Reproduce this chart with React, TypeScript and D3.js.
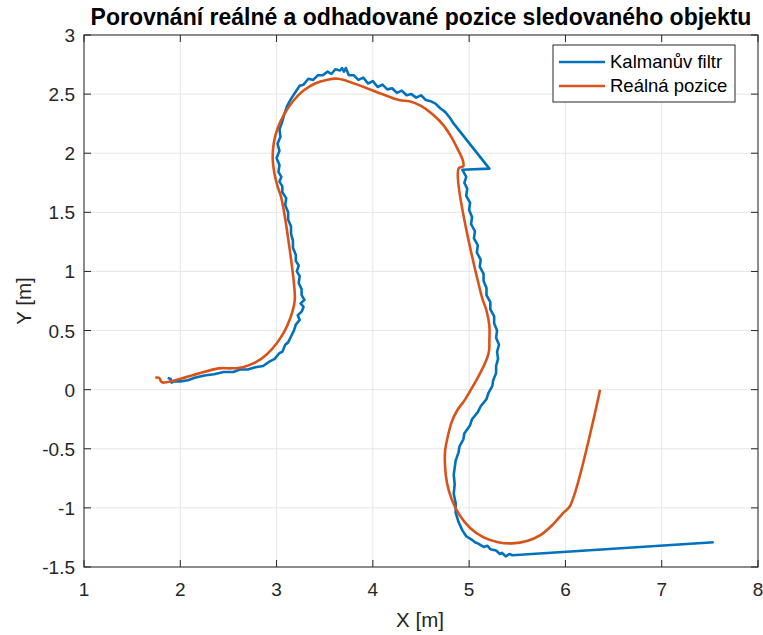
import React from "react";
import * as d3 from "d3";

const xTicks = [1, 2, 3, 4, 5, 6, 7, 8];
const yTicks = [-1.5, -1, -0.5, 0, 0.5, 1, 1.5, 2, 2.5, 3];
const seriesNames = ["Kalmanův filtr", "Reálná pozice"];

const kalmanX = [
  1.87, 1.90, 1.91, 1.93, 2.0, 2.08, 2.15, 2.25, 2.35, 2.45, 2.55, 2.62, 2.70, 2.78, 2.86, 2.93, 2.98, 3.03,
  3.06, 3.09, 3.12, 3.15, 3.18, 3.20, 3.24, 3.22, 3.26, 3.28, 3.25, 3.29, 3.26, 3.26, 3.23, 3.24, 3.21, 3.23,
  3.20, 3.20, 3.17, 3.17, 3.15, 3.15, 3.12, 3.12, 3.09, 3.10, 3.06, 3.06, 3.03, 3.05, 3.02, 3.03, 3.00, 3.03,
  3.01, 3.04, 3.03, 3.06, 3.08, 3.11, 3.15, 3.19, 3.24, 3.28, 3.33, 3.38, 3.43, 3.48, 3.53, 3.57, 3.61, 3.66,
  3.68, 3.70, 3.72, 3.75, 3.80, 3.85, 3.90, 3.95, 4.00, 4.05, 4.10, 4.15, 4.20, 4.25, 4.30, 4.35, 4.40, 4.45,
  4.50, 4.55, 4.60, 4.65, 4.70, 4.75, 4.80, 4.84, 5.21, 4.93, 4.97, 4.95, 4.98, 4.97, 5.01, 5.00, 5.03, 5.02,
  5.06, 5.05, 5.09, 5.08, 5.12, 5.11, 5.15, 5.15, 5.18, 5.18, 5.22, 5.22, 5.26, 5.26, 5.29, 5.28, 5.31, 5.29,
  5.30, 5.28, 5.28, 5.25, 5.24, 5.20, 5.18, 5.12, 5.09, 5.03, 5.01, 4.95, 4.94, 4.90, 4.89, 4.86, 4.85, 4.84,
  4.85, 4.84, 4.86, 4.86, 4.89, 4.93, 4.97, 5.03, 5.06, 5.09, 5.15, 5.19, 5.22, 5.28, 5.32, 5.34, 5.38, 5.40,
  5.42, 5.45, 7.54,
];
const kalmanY = [
  0.10, 0.09, 0.06, 0.07, 0.07, 0.08, 0.10, 0.12, 0.13, 0.15, 0.15, 0.17, 0.17, 0.19, 0.20, 0.24, 0.26, 0.31,
  0.32, 0.38, 0.40, 0.45, 0.50, 0.55, 0.59, 0.63, 0.66, 0.70, 0.73, 0.76, 0.80, 0.85, 0.90, 0.96, 1.00, 1.05,
  1.09, 1.14, 1.20, 1.26, 1.32, 1.38, 1.44, 1.50, 1.56, 1.62, 1.67, 1.72, 1.76, 1.80, 1.84, 1.90, 1.96, 2.02,
  2.08, 2.14, 2.20, 2.27, 2.33, 2.40, 2.46, 2.51, 2.57, 2.58, 2.63, 2.62, 2.66, 2.66, 2.69, 2.67, 2.71, 2.70,
  2.72, 2.69, 2.72, 2.66, 2.66, 2.62, 2.64, 2.59, 2.61, 2.56, 2.58, 2.54, 2.55, 2.51, 2.53, 2.49, 2.50, 2.47,
  2.49, 2.45, 2.44, 2.42, 2.38, 2.35, 2.30, 2.25, 1.87, 1.86, 1.80, 1.75, 1.70, 1.64, 1.58, 1.52, 1.46, 1.40,
  1.34, 1.28, 1.22, 1.16, 1.10, 1.04, 0.98, 0.92, 0.86, 0.80, 0.74, 0.68, 0.62, 0.56, 0.50, 0.44, 0.38, 0.32,
  0.26, 0.20, 0.14, 0.08, 0.03, -0.03, -0.08, -0.14, -0.19, -0.25, -0.30, -0.37, -0.42, -0.48, -0.53, -0.60, -0.66, -0.72,
  -0.80, -0.88, -0.96, -1.04, -1.12, -1.19, -1.24, -1.27, -1.29, -1.30, -1.33, -1.32, -1.35, -1.36, -1.39, -1.38, -1.41, -1.40,
  -1.39, -1.40, -1.29,
];

const realX = [
  1.74, 1.78, 1.80, 1.82, 2.40, 2.52, 2.65, 2.78, 2.90, 3.00, 3.08, 3.14, 3.18, 3.19, 3.05, 3.01, 2.98, 2.96,
  2.97, 3.01, 3.08, 3.17, 3.28, 3.40, 3.52, 3.64, 4.27, 4.38, 4.50, 4.62, 4.73, 4.82, 4.89, 4.93, 4.94, 4.89,
  5.13, 5.18, 5.21, 5.21, 5.20, 4.96, 4.88, 4.82, 4.78, 4.75, 4.75, 4.77, 4.82, 4.90, 5.01, 5.15, 5.30, 5.45,
  5.60, 5.74, 5.87, 5.98, 6.05, 6.36,
];
const realY = [
  0.10, 0.10, 0.07, 0.06, 0.18, 0.18, 0.19, 0.23, 0.30, 0.39, 0.49, 0.60, 0.71, 0.79, 1.62, 1.72, 1.82, 1.95,
  2.08, 2.21, 2.33, 2.44, 2.53, 2.59, 2.62, 2.63, 2.45, 2.44, 2.40, 2.33, 2.24, 2.13, 2.02, 1.95, 1.89, 1.87,
  0.79, 0.67, 0.54, 0.42, 0.30, -0.08, -0.17, -0.27, -0.39, -0.52, -0.65, -0.79, -0.93, -1.06, -1.17, -1.25, -1.29, -1.30,
  -1.28, -1.23, -1.14, -1.04, -0.98, 0.00,
];

const W = 763;
const H = 635;
const M = { left: 84, right: 758, top: 35, bottom: 567 };
const BLUE = "#0072BD";
const ORANGE = "#D95319";
const FONT = "'Liberation Sans', Arial, Helvetica, sans-serif";

export default function App() {
  const x = d3.scaleLinear().domain([1, 8]).range([M.left, M.right]);
  const y = d3.scaleLinear().domain([-1.5, 3]).range([M.bottom, M.top]);
  const n = Math.min(kalmanX.length, kalmanY.length);
  const kalman = kalmanX.slice(0, n).map((v, i) => [v, kalmanY[i]] as [number, number]);
  const real = realX.map((v, i) => [v, realY[i]] as [number, number]);
  const lin = d3.line<[number, number]>().x((d) => x(d[0])).y((d) => y(d[1]));
  const smooth = d3
    .line<[number, number]>()
    .x((d) => x(d[0]))
    .y((d) => y(d[1]))
    .curve(d3.curveCatmullRom.alpha(0.5));
  const tickLen = 7;
  const axisColor = "#262626";
  const lgX = 553, lgY = 45, lgW = 182, lgH = 57;
  return (
    <svg width={W} height={H} style={{ position: "absolute", left: 0, top: 0, background: "#fff" }} fontFamily={FONT}>
      <rect x={0} y={0} width={W} height={H} fill="#fff" />
      {xTicks.map((t) => (
        <line key={"gx" + t} x1={x(t)} x2={x(t)} y1={M.top} y2={M.bottom} stroke="#e6e6e6" strokeWidth={1} />
      ))}
      {yTicks.map((t) => (
        <line key={"gy" + t} x1={M.left} x2={M.right} y1={y(t)} y2={y(t)} stroke="#e6e6e6" strokeWidth={1} />
      ))}
      <path d={lin(kalman) || ""} fill="none" stroke={BLUE} strokeWidth={2.6} strokeLinejoin="round" />
      <path d={smooth(real) || ""} fill="none" stroke={ORANGE} strokeWidth={2.6} strokeLinejoin="round" />
      <rect x={M.left} y={M.top} width={M.right - M.left} height={M.bottom - M.top} fill="none" stroke={axisColor} strokeWidth={1} />
      {xTicks.map((t) => (
        <g key={"tx" + t}>
          <line x1={x(t)} x2={x(t)} y1={M.bottom} y2={M.bottom - tickLen} stroke={axisColor} />
          <line x1={x(t)} x2={x(t)} y1={M.top} y2={M.top + tickLen} stroke={axisColor} />
          <text x={x(t)} y={M.bottom + 29} textAnchor="middle" fontSize={19} fill={axisColor}>{t}</text>
        </g>
      ))}
      {yTicks.map((t) => (
        <g key={"ty" + t}>
          <line x1={M.left} x2={M.left + tickLen} y1={y(t)} y2={y(t)} stroke={axisColor} />
          <line x1={M.right} x2={M.right - tickLen} y1={y(t)} y2={y(t)} stroke={axisColor} />
          <text x={M.left - 9} y={y(t) + 7} textAnchor="end" fontSize={19} fill={axisColor}>{t}</text>
        </g>
      ))}
      <text x={420} y={627} textAnchor="middle" fontSize={20.5} fill={axisColor}>X [m]</text>
      <text transform={`translate(31,${(M.top + M.bottom) / 2}) rotate(-90)`} textAnchor="middle" fontSize={20.5} fill={axisColor}>Y [m]</text>
      <text x={(M.left + M.right) / 2} y={25} textAnchor="middle" fontSize={23} fontWeight="bold" fill="#000">
        Porovnání reálné a odhadované pozice sledovaného objektu
      </text>
      <rect x={lgX} y={lgY} width={lgW} height={lgH} fill="#fff" stroke={axisColor} strokeWidth={1} />
      {seriesNames.map((s, i) => (
        <g key={s}>
          <line x1={lgX + 6} x2={lgX + 52} y1={lgY + 17 + i * 24} y2={lgY + 17 + i * 24} stroke={i === 0 ? BLUE : ORANGE} strokeWidth={2.6} />
          <text x={lgX + 57} y={lgY + 23 + i * 24} fontSize={18.5} fill="#000">{s}</text>
        </g>
      ))}
    </svg>
  );
}
